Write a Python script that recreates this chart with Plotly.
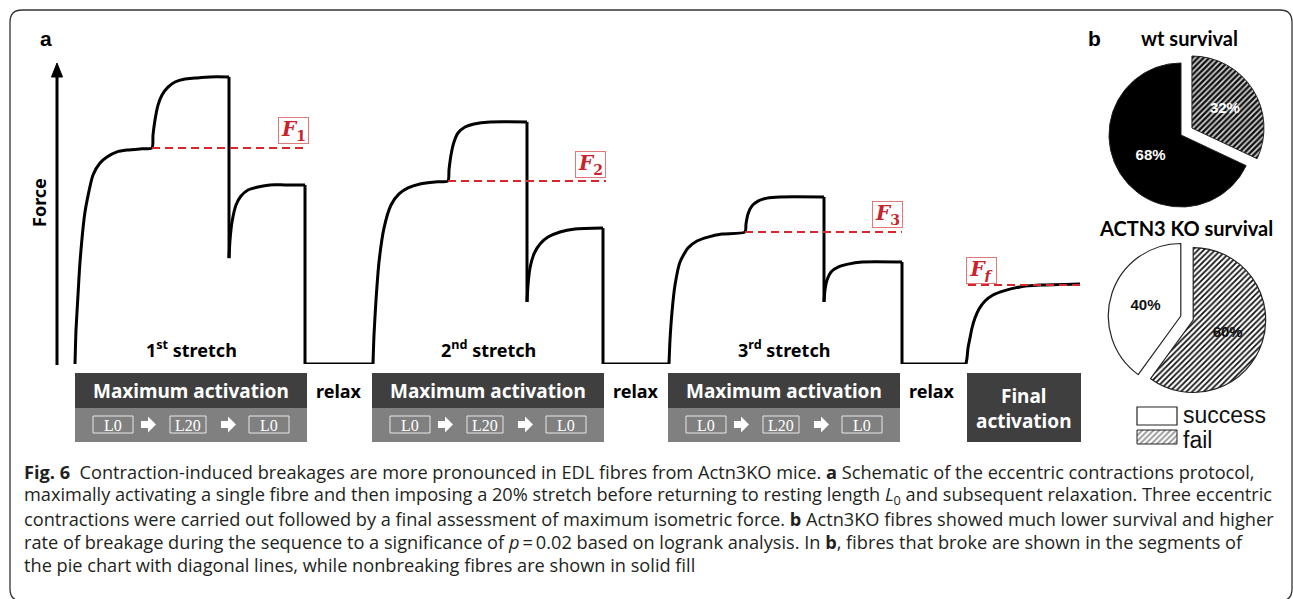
import plotly.graph_objects as go

W, H = 1293, 599

# ---------------- data: schematic force trace (arbitrary units) ----------------
time_au = [
    1.8, 1.9, 2.1, 2.3, 2.8, 3.6, 4.3, 5.0, 6.0, 7.0, 8.3, 9.5,
    9.6, 9.8, 10.1, 10.5, 11.1, 11.8, 12.8, 13.8, 15.3, 17.2,
    17.2, 17.3, 17.5, 17.9, 18.4, 19.1, 20.1, 21.3, 22.8, 24.8,
    24.8, 31.5,
    31.6, 31.7, 31.9, 32.2, 32.7, 33.4, 34.2, 35.1, 36.3, 37.8, 39.1,
    39.2, 39.4, 39.7, 40.1, 40.8, 41.7, 43.3, 47.0,
    47.0, 47.1, 47.3, 47.7, 48.3, 49.1, 50.3, 51.8, 54.6,
    54.6, 61.1,
    61.2, 61.3, 61.5, 61.8, 62.3, 63.1, 64.0, 65.1, 66.5, 68.8,
    68.9, 69.1, 69.5, 70.1, 71.0, 72.3, 76.7,
    76.7, 76.8, 77.0, 77.4, 78.1, 79.1, 80.5, 84.5,
    84.5, 90.9,
    91.0, 91.1, 91.3, 91.5, 91.8, 92.2, 92.8, 93.6, 94.6, 96.3, 98.3, 102.3,
]
force_au = [
    0, 11.3, 23.0, 34.0, 50.7, 63.0, 67.0, 69.0, 70.7, 71.3, 71.7, 72.0,
    76.3, 81.3, 86.3, 89.7, 92.3, 94.0, 95.0, 95.3, 95.7, 95.7,
    35.3, 41.3, 47.3, 53.0, 56.0, 58.0, 59.0, 59.7, 59.7, 59.7,
    0, 0,
    0, 9.7, 21.3, 34.0, 45.3, 53.0, 56.7, 58.7, 60.0, 60.7, 61.0,
    64.7, 69.7, 74.0, 77.0, 79.0, 80.0, 80.7, 80.7,
    20.7, 26.3, 32.0, 36.7, 40.0, 42.3, 44.0, 45.0, 45.3,
    0, 0,
    0, 8.0, 17.3, 26.3, 34.0, 38.7, 41.0, 42.3, 43.3, 44.0,
    46.7, 50.0, 52.7, 54.3, 55.3, 55.7, 55.7,
    20.7, 24.7, 28.0, 30.7, 32.3, 33.3, 34.0, 34.0,
    0, 0,
    2.0, 5.3, 8.7, 12.0, 15.3, 18.3, 21.0, 23.0, 24.3, 25.7, 26.3, 26.7,
]

# reference force levels (red dashed lines)
ref_labels = ["<b><i>F</i></b><sub><b>1</b></sub>", "<b><i>F</i></b><sub><b>2</b></sub>",
              "<b><i>F</i></b><sub><b>3</b></sub>", "<b><i>F</i></b><sub><b><i>f</i></b></sub>"]
ref_force = [72.0, 61.0, 44.0, 26.3]
ref_t_start = [9.5, 39.1, 68.8, 91.1]
ref_t_end = [24.7, 54.9, 84.5, 102.3]

stretch_labels = ["1<sup>st</sup> stretch", "2<sup>nd</sup> stretch", "3<sup>rd</sup> stretch"]
length_steps = ["L0", "L20", "L0"]

# pie data
pie_labels = ["fail", "success"]
wt_values = [32, 68]
ko_values = [60, 40]
legend_labels = ["success", "fail"]

caption_lines = [
    "<b>Fig. 6</b>  Contraction-induced breakages are more pronounced in EDL fibres from Actn3KO mice. <b>a</b> Schematic of the eccentric contractions protocol,",
    "maximally activating a single fibre and then imposing a 20% stretch before returning to resting length <i>L</i><sub>0</sub> and subsequent relaxation. Three eccentric",
    "contractions were carried out followed by a final assessment of maximum isometric force. <b>b</b> Actn3KO fibres showed much lower survival and higher",
    "rate of breakage during the sequence to a significance of <i>p</i>\u2009=\u20090.02 based on logrank analysis. In <b>b</b>, fibres that broke are shown in the segments of",
    "the pie chart with diagonal lines, while nonbreaking fibres are shown in solid fill",
]

# ---------------- layout helpers (pixel positions) ----------------
def px(x):
    return x / W

def py(y):
    return 1 - y / H

fig = go.Figure()

# force trace: smooth pieces between the instantaneous (vertical) force steps,
# straight pieces for the vertical drops and the flat relax baselines
breaks = set(i for i in range(len(time_au) - 1)
             if time_au[i] == time_au[i + 1] or (force_au[i] == 0 and force_au[i + 1] == 0))
start = 0
for b in sorted(breaks) + [len(time_au) - 1]:
    if b > start:
        fig.add_trace(go.Scatter(x=time_au[start:b + 1], y=force_au[start:b + 1], mode="lines",
                                 line=dict(color="black", width=3, shape="spline", smoothing=0.6),
                                 hoverinfo="skip", xaxis="x", yaxis="y", showlegend=False))
    if b < len(time_au) - 1:
        fig.add_trace(go.Scatter(x=time_au[b:b + 2], y=force_au[b:b + 2], mode="lines",
                                 line=dict(color="black", width=3),
                                 hoverinfo="skip", xaxis="x", yaxis="y", showlegend=False))
    start = b + 1

# red reference lines
for f, t0, t1 in zip(ref_force, ref_t_start, ref_t_end):
    fig.add_trace(go.Scatter(x=[t0, t1], y=[f, f], mode="lines",
                             line=dict(color="#d8262c", width=2, dash="8px,5px"),
                             hoverinfo="skip", xaxis="x", yaxis="y", showlegend=False))

# legend hatched box (pixel overlay axis)
fig.add_trace(go.Scatter(x=[1137, 1177, 1177, 1137, 1137], y=[430, 430, 444, 444, 430],
                         mode="lines", fill="toself", fillcolor="white",
                         fillpattern=dict(shape="/", fgcolor="#222", bgcolor="white", size=4, solidity=0.45),
                         line=dict(color="#222", width=1), hoverinfo="skip",
                         xaxis="x2", yaxis="y2", showlegend=False))

# pies
fig.add_trace(go.Pie(labels=pie_labels, values=wt_values, sort=False, direction="clockwise", rotation=0,
                     pull=[0.18, 0],
                     marker=dict(colors=["black", "black"], line=dict(color="#222", width=1),
                                 pattern=dict(shape=["/", ""], fgcolor="#111", bgcolor="#d8d8d8", size=4, solidity=0.6)),
                     texttemplate="<b>%{value}%</b>", textposition="inside",
                     insidetextorientation="horizontal",
                     textfont=dict(color="white", size=15, family="Liberation Sans"),
                     domain=dict(x=[px(1096), px(1266)], y=[py(220), py(50)]),
                     showlegend=False, hoverinfo="skip"))
fig.add_trace(go.Pie(labels=pie_labels, values=ko_values, sort=False, direction="clockwise", rotation=0,
                     pull=[0.09, 0.09],
                     marker=dict(colors=["black", "white"], line=dict(color="#222", width=1.2),
                                 pattern=dict(shape=["/", ""], fgcolor="#111", bgcolor="white", size=4, solidity=0.45)),
                     texttemplate="<b>%{value}%</b>", textposition="inside",
                     insidetextorientation="horizontal",
                     textfont=dict(color="#111", size=15, family="Liberation Sans"),
                     domain=dict(x=[px(1108), px(1266)], y=[py(397), py(239)]),
                     showlegend=False, hoverinfo="skip"))

shapes = []
ann = []

def A(x, y, text, size=18, color="black", family="Noto Sans", xanchor="center", **kw):
    ann.append(dict(x=x, y=y, xref="x2", yref="y2", text=text, showarrow=False,
                    font=dict(size=size, color=color, family=family), xanchor=xanchor,
                    yanchor="middle", **kw))

# outer rounded border
r = 12
L, T, R, B = 10, 10, 1292, 601
shapes.append(dict(type="path", xref="x2", yref="y2",
                   path=f"M{L+r},{T} H{R-r} Q{R},{T} {R},{T+r} V{B-r} Q{R},{B} {R-r},{B} H{L+r} Q{L},{B} {L},{B-r} V{T+r} Q{L},{T} {L+r},{T} Z",
                   line=dict(color="#333", width=1.3)))

# force axis arrow
shapes.append(dict(type="line", xref="x2", yref="y2", x0=57, x1=57, y0=365, y1=74,
                   line=dict(color="black", width=3)))
shapes.append(dict(type="path", xref="x2", yref="y2", path="M51.5,77 L57,63 L62.5,77 Z",
                   fillcolor="black", line=dict(color="black", width=1)))

A(46, 38, "<b>a</b>", size=21, family="Liberation Sans")
A(39, 203, "<b>Force</b>", size=18, textangle=-90)

# activation blocks
block_starts = [75, 372, 668]
for i, xs in enumerate(block_starts):
    shapes.append(dict(type="rect", xref="x2", yref="y2", x0=xs, x1=xs + 232, y0=373, y1=408,
                       fillcolor="#3f3f3f", line=dict(width=0)))
    shapes.append(dict(type="rect", xref="x2", yref="y2", x0=xs, x1=xs + 232, y0=408, y1=442,
                       fillcolor="#808080", line=dict(width=0)))
    A(xs + 116, 391, "<b>Maximum activation</b>", size=19, color="white")
    A(xs + 116, 349, "<b>" + stretch_labels[i] + "</b>", size=18)
    A(xs + 264, 391, "<b>relax</b>", size=18)
    for lab, (b0, b1) in zip(length_steps, [(18, 58), (95, 131), (174, 214)]):
        shapes.append(dict(type="rect", xref="x2", yref="y2", x0=xs + b0, x1=xs + b1, y0=416, y1=433,
                           line=dict(color="#e6e6e6", width=1)))
        A(xs + (b0 + b1) / 2, 425, lab, size=16, color="white", family="Liberation Serif")
    for a0 in (66, 146):
        x0 = xs + a0
        shapes.append(dict(type="path", xref="x2", yref="y2",
                           path=f"M{x0},421 H{x0+7} V416.5 L{x0+15},424.5 L{x0+7},432.5 V428 H{x0} Z",
                           fillcolor="white", line=dict(width=0)))

shapes.append(dict(type="rect", xref="x2", yref="y2", x0=967, x1=1081, y0=373, y1=442,
                   fillcolor="#3f3f3f", line=dict(width=0)))
A(1024, 408, "<b>Final<br>activation</b>", size=19, color="white")

# F labels
ref_box_centers = [(293.5, 130.5), (590, 164), (887, 214), (981, 270)]
for lab, (cx, cy) in zip(ref_labels, ref_box_centers):
    A(cx, cy, lab, size=20, color="#c8232b", family="DejaVu Serif",
      bordercolor="#e07a7a", borderwidth=1, borderpad=1, width=27, height=23, bgcolor="rgba(255,255,255,0)")

# panel b
A(1094, 38, "<b>b</b>", size=21, family="Liberation Sans")
A(1189, 38, "<b>wt survival</b>", size=20, family="Lato")
A(1186, 228, "<b>ACTN3 KO survival</b>", size=20, family="Lato")

shapes.append(dict(type="rect", xref="x2", yref="y2", x0=1137, x1=1177, y0=407, y1=425,
                   fillcolor="white", line=dict(color="#222", width=1.2)))
A(1181, 415, legend_labels[0], size=23, color="#111", family="Liberation Sans", xanchor="left")
A(1181, 440, legend_labels[1], size=23, color="#111", family="Liberation Sans", xanchor="left")

# caption
for k, line in enumerate(caption_lines):
    A(22, 472 + k * 23.3, line, size=18.2, color="#231f20", family="Open Sans", xanchor="left")

fig.update_layout(
    width=W, height=H, margin=dict(l=0, r=0, t=0, b=0),
    paper_bgcolor="white", plot_bgcolor="rgba(0,0,0,0)",
    xaxis=dict(domain=[px(57), px(1080)], range=[0, 102.3], visible=False, fixedrange=True),
    yaxis=dict(domain=[py(364), py(64)], range=[0, 100], visible=False, fixedrange=True),
    xaxis2=dict(domain=[0, 1], range=[0, W], visible=False, anchor="y2", fixedrange=True),
    yaxis2=dict(domain=[0, 1], range=[H, 0], visible=False, anchor="x2", fixedrange=True),
    shapes=shapes, annotations=ann, showlegend=False,
)

fig.write_html("out.html", config={"displayModeBar": False},
               post_script="document.body.style.margin='0px';")
